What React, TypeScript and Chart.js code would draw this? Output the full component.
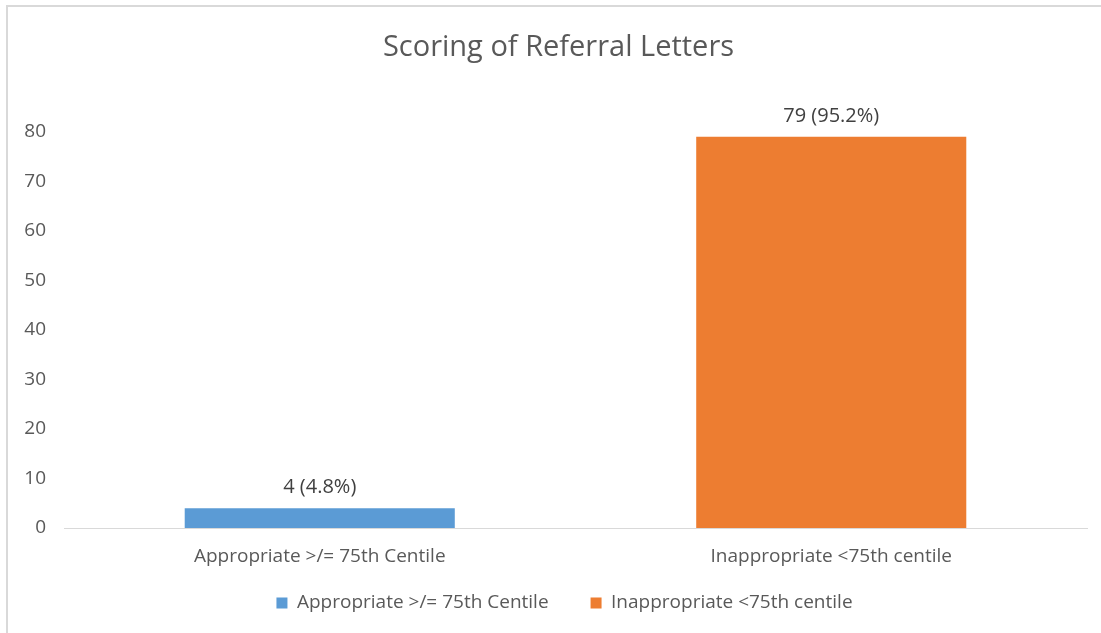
import React, { useEffect, useRef } from "react";
import { Chart, registerables } from "chart.js";

Chart.register(...registerables);

const categories = ["Appropriate >/= 75th Centile", "Inappropriate <75th centile"];
const seriesNames = ["Appropriate >/= 75th Centile", "Inappropriate <75th centile"];
const appropriateValues = [4, null];
const inappropriateValues = [null, 79];
const barLabels = ["4 (4.8%)", "79 (95.2%)"];
const yTicks = [0, 10, 20, 30, 40, 50, 60, 70, 80];
const titleText = "Scoring of Referral Letters";

const FONT = "'Open Sans', sans-serif";
const TEXT = "#595959";

const LEGEND_PAD = 42;
const LEGEND_CENTER_Y = 603;
const LEGEND_SHIFT_X = -11;
const TITLE_SHIFT_X = 15;

const barLabelPlugin = {
  id: "barLabels",
  afterDatasetsDraw(chart: any) {
    const ctx = chart.ctx;
    ctx.save();
    ctx.font = `20px ${FONT}`;
    ctx.fillStyle = "#404040";
    ctx.textAlign = "center";
    ctx.textBaseline = "alphabetic";
    chart.data.datasets.forEach((ds: any, di: number) => {
      const meta = chart.getDatasetMeta(di);
      meta.data.forEach((el: any, i: number) => {
        if (ds.data[i] == null) return;
        ctx.fillText(barLabels[i], el.x, el.y - 15);
      });
    });
    ctx.restore();
  },
};

const placePlugin = {
  id: "place",
  afterUpdate(chart: any) {
    const lg = chart.legend;
    if (lg) {
      const targetTop = LEGEND_CENTER_Y - 9.5 - LEGEND_PAD;
      const dy = targetTop - lg.top;
      lg.top += dy;
      lg.bottom += dy;
      lg.left += LEGEND_SHIFT_X;
      lg.right += LEGEND_SHIFT_X;
    }
    const tt = chart.titleBlock;
    if (tt) {
      tt.left += TITLE_SHIFT_X;
      tt.right += TITLE_SHIFT_X;
    }
    const xs = chart.scales.x;
    if (xs) {
      // let the category labels draw below the thin axis box without clipping
      xs.bottom = xs.top + 50;
    }
  },
};

export default function App() {
  const ref = useRef<HTMLCanvasElement>(null);
  useEffect(() => {
    if (!ref.current) return;
    const chart = new Chart(ref.current, {
      type: "bar",
      data: {
        labels: categories,
        datasets: [
          {
            label: seriesNames[0],
            data: appropriateValues,
            backgroundColor: "#5B9BD5",
            borderWidth: 0,
            skipNull: true,
          } as any,
          {
            label: seriesNames[1],
            data: inappropriateValues,
            backgroundColor: "#ED7D31",
            borderWidth: 0,
            skipNull: true,
          } as any,
        ],
      },
      options: {
        animation: false,
        responsive: false,
        layout: { padding: { left: 0, right: 14, top: 0, bottom: 0 } },
        datasets: { bar: { barPercentage: 0.528, categoryPercentage: 1 } },
        scales: {
          x: {
            afterFit: (scale: any) => {
              scale.height = 34;
            },
            grid: { display: false, drawTicks: false },
            border: { display: true, color: "#d9d9d9", width: 1 },
            ticks: { color: TEXT, font: { family: FONT, size: 19 }, padding: 17, maxRotation: 0, autoSkip: false },
          },
          y: {
            min: 0,
            max: 80,
            afterBuildTicks: (scale: any) => {
              scale.ticks = yTicks.map((v) => ({ value: v }));
            },
            afterFit: (scale: any) => {
              scale.width = 64;
            },
            grid: { display: false, drawTicks: false },
            border: { display: false },
            ticks: { color: TEXT, font: { family: FONT, size: 19 }, padding: 18 },
          },
        },
        plugins: {
          title: {
            display: true,
            text: titleText,
            color: TEXT,
            font: { family: FONT, size: 29, weight: "normal" },
            padding: { top: 30, bottom: 67 },
          },
          legend: {
            position: "bottom",
            fullSize: false,
            labels: {
              color: TEXT,
              font: { family: FONT, size: 19 },
              boxWidth: 11,
              boxHeight: 11,
              padding: LEGEND_PAD,
            },
          },
          tooltip: { enabled: false },
        },
      },
      plugins: [barLabelPlugin, placePlugin],
    });
    return () => chart.destroy();
  }, []);

  return (
    <div style={{ position: "absolute", left: 0, top: 0, width: 1101, height: 633, background: "#fff", overflow: "hidden" }}>
      <div
        style={{
          position: "absolute",
          left: 6,
          top: 5,
          width: 1101,
          height: 633,
          borderLeft: "2px solid #d9d9d9",
          borderTop: "2px solid #d9d9d9",
          boxSizing: "border-box",
        }}
      />
      <canvas ref={ref} width={1101} height={633} style={{ position: "absolute", left: 0, top: 0 }} />
    </div>
  );
}
